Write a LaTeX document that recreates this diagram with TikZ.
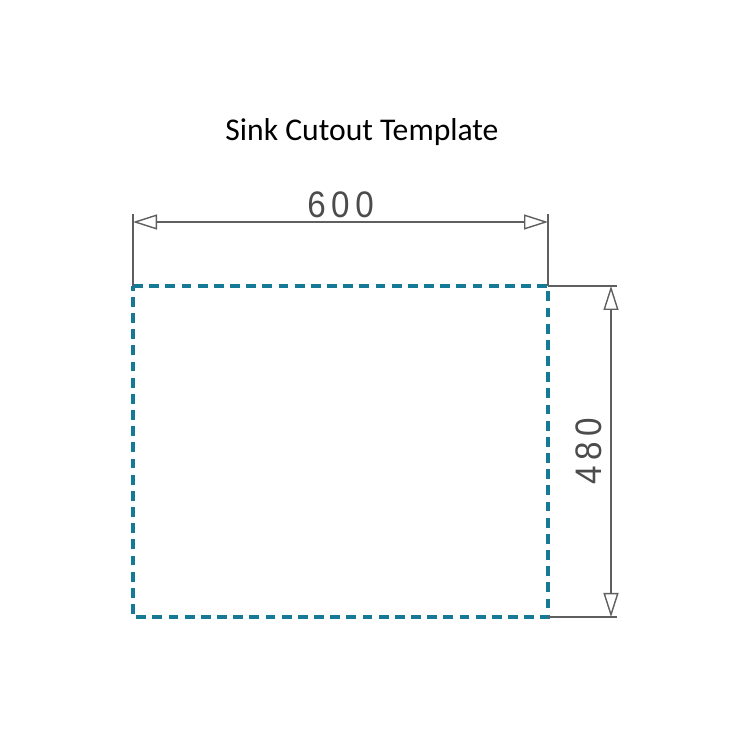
\documentclass[tikz,border=0pt]{standalone}
\usepackage{fontspec}
\setmainfont{Carlito}
\newfontfamily\dimfont{Liberation Sans}
\usetikzlibrary{arrows.meta,positioning,calc}
\definecolor{cutoutblue}{RGB}{22,122,150}
\definecolor{dimgray}{RGB}{95,95,95}

\begin{document}
\begin{tikzpicture}
    \useasboundingbox (0,0) rectangle (15,15);

    % Corners of the cutout
    \coordinate (tl) at (2.66,9.28);
    \coordinate (tr) at (10.96,9.28);
    \coordinate (br) at (10.96,2.66);
    \coordinate (bl) at (2.66,2.66);

    % Title
    \node[font=\fontsize{18}{20}\selectfont] (title) at (7.24,12.36) {Sink Cutout Template};

    % Cutout outline
    \draw[cutoutblue, line width=2.8pt, dash pattern=on 5.6pt off 3.6pt] (tl) -- (tr) -- (br) -- (bl) -- cycle;

    % Extension lines
    \coordinate (wl) at ($(tl)+(0,1.44)$);
    \coordinate (wr) at ($(tr)+(0,1.44)$);
    \coordinate (ht) at ($(tr)+(1.38,0)$);
    \coordinate (hb) at ($(br)+(1.38,0)$);
    \draw[dimgray, line width=0.8pt] (tl) -- (wl);
    \draw[dimgray, line width=0.8pt] (tr) -- (wr);
    \draw[dimgray, line width=0.8pt] (tr) -- (ht);
    \draw[dimgray, line width=0.8pt] (br) -- (hb);

    % Width dimension
    \coordinate (wa) at ($(tl)+(0,1.28)$);
    \coordinate (wb) at ($(tr)+(0,1.28)$);
    \draw[dimgray, line width=0.8pt, {Triangle[open,length=0.48cm,width=0.3cm]}-{Triangle[open,length=0.48cm,width=0.3cm]}] (wa) -- (wb);
    \node[font=\dimfont\fontsize{21}{22}\selectfont, text=dimgray!80!black, above=-1pt, xscale=0.9] (width) at ($(wa)!0.5!(wb)$) {6\,0\,0};

    % Height dimension
    \coordinate (ha) at ($(tr)+(1.26,0)$);
    \coordinate (hc) at ($(br)+(1.26,0)$);
    \draw[dimgray, line width=0.8pt, {Triangle[open,length=0.48cm,width=0.3cm]}-{Triangle[open,length=0.48cm,width=0.3cm]}] (ha) -- (hc);
    \node[font=\dimfont\fontsize{21}{22}\selectfont, text=dimgray!80!black, rotate=90, xscale=0.9, anchor=south] (height) at ($(ha)!0.5!(hc)+(-0.05,0)$) {4\,8\,0};
\end{tikzpicture}
\end{document}
